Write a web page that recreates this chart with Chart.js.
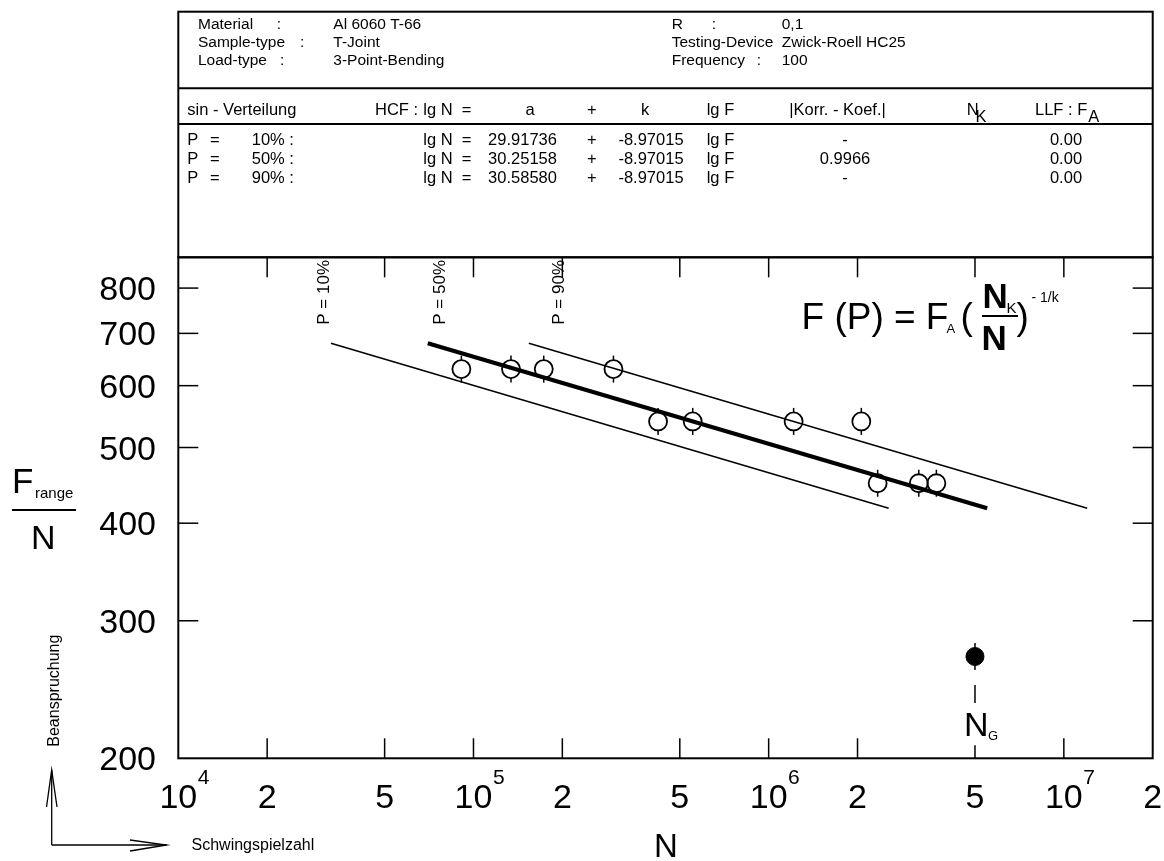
<!DOCTYPE html>
<html>
<head>
<meta charset="utf-8">
<script src="https://cdn.jsdelivr.net/npm/chart.js@4.4.1/dist/chart.umd.min.js"></script>
<style>
html,body{margin:0;padding:0;background:#fff;}
#wrap{position:relative;width:1164px;height:861px;}
canvas{display:block;}
</style>
</head>
<body>
<div id="wrap"><canvas id="c" width="1164" height="861"></canvas></div>
<script>
// ---- data ----
const failureCycles = [91000, 134000, 173000, 298000, 422000, 553000, 1215000, 2060000, 2340000, 3225000, 3700000];
const failureLoads  = [630, 630, 630, 630, 540, 540, 540, 540, 450, 450, 450];
const runoutCycles = [5000000];
const runoutLoads  = [270];
const p10Cycles = [32900, 2550000];
const p10Loads  = [680, 418];
const p50Cycles = [70000, 5500000];
const p50Loads  = [680, 418];
const p90Cycles = [154000, 12000000];
const p90Loads  = [680, 418];
const xTickValues = [1e4, 2e4, 5e4, 1e5, 2e5, 5e5, 1e6, 2e6, 5e6, 1e7, 2e7];
const xTickMantissa = ['10', '2', '5', '10', '2', '5', '10', '2', '5', '10', '2'];
const xTickExponent = ['4', '', '', '5', '', '', '6', '', '', '7', ''];
const yTickValues = [200, 300, 400, 500, 600, 700, 800];
const yTickLabels = ['200', '300', '400', '500', '600', '700', '800'];
const pLabels = ['P = 10%', 'P = 50%', 'P = 90%'];
const pLabelCycles = [32300, 80200, 203000];

const headerLeft = [['Material', ':', 'Al 6060 T-66'], ['Sample-type', ':', 'T-Joint'], ['Load-type', ':', '3-Point-Bending']];
const headerRight = [['R', ':', '0,1'], ['Testing-Device', '', 'Zwick-Roell HC25'], ['Frequency', ':', '100']];
const rowProb = ['10% :', '50% :', '90% :'];
const rowA = ['29.91736', '30.25158', '30.58580'];
const rowK = ['-8.97015', '-8.97015', '-8.97015'];
const rowKorr = ['-', '0.9966', '-'];
const rowFA = ['0.00', '0.00', '0.00'];

const toPts = (xs, ys) => xs.map((x, i) => ({x: x, y: ys[i]}));
const FONT = "'Liberation Sans', Arial, Helvetica, sans-serif";

function txt(ctx, s, x, y, size, align, weight) {
  ctx.font = (weight ? weight + ' ' : '') + size + 'px ' + FONT;
  ctx.textAlign = align || 'left';
  ctx.textBaseline = 'alphabetic';
  ctx.fillText(s, x, y);
}
function line(ctx, x1, y1, x2, y2, w) {
  ctx.lineWidth = w || 1.5;
  ctx.beginPath(); ctx.moveTo(x1, y1); ctx.lineTo(x2, y2); ctx.stroke();
}

const decor = {
  id: 'decor',
  beforeDraw(chart) {
    const ctx = chart.ctx;
    ctx.save(); ctx.fillStyle = '#fff'; ctx.fillRect(0, 0, chart.width, chart.height); ctx.restore();
  },
  afterDatasetsDraw(chart) {
    const ctx = chart.ctx;
    ctx.save();
    ctx.strokeStyle = '#000';
    [3, 4].forEach(di => {
      const meta = chart.getDatasetMeta(di);
      meta.data.forEach(pt => {
        line(ctx, pt.x, pt.y - 13.5, pt.x, pt.y - 9, 1.5);
        line(ctx, pt.x, pt.y + 9, pt.x, pt.y + 13.5, 1.5);
      });
    });
    ctx.restore();
  },
  afterDraw(chart) {
    const ctx = chart.ctx;
    const a = chart.chartArea;
    const xs = chart.scales.x, ys = chart.scales.y;
    ctx.save();
    ctx.fillStyle = '#000';
    ctx.strokeStyle = '#000';

    // plot frame
    ctx.lineWidth = 2;
    ctx.strokeRect(a.left, a.top, a.right - a.left, a.bottom - a.top);

    // inner tick marks
    xTickValues.forEach(v => {
      const px = xs.getPixelForValue(v);
      if (px <= a.left + 1 || px >= a.right - 1) return;
      line(ctx, px, a.top, px, a.top + 20, 1.5);
      const bTop = (v === runoutCycles[0]) ? a.bottom - 13 : a.bottom - 20;
      line(ctx, px, a.bottom, px, bTop, 1.5);
    });
    yTickValues.forEach(v => {
      const py = ys.getPixelForValue(v);
      if (py >= a.bottom - 1 || py <= a.top + 1) return;
      line(ctx, a.left, py, a.left + 20, py, 1.5);
      line(ctx, a.right, py, a.right - 20, py, 1.5);
    });

    // x tick labels
    xTickValues.forEach((v, i) => {
      const px = xs.getPixelForValue(v);
      const m = xTickMantissa[i];
      txt(ctx, m, px, a.bottom + 50, 34, 'center');
      if (xTickExponent[i]) {
        ctx.font = '34px ' + FONT;
        const w = ctx.measureText(m).width;
        txt(ctx, xTickExponent[i], px + w / 2 + 0.5, a.bottom + 26, 21, 'left');
      }
    });
    // y tick labels
    yTickValues.forEach((v, i) => {
      const py = ys.getPixelForValue(v);
      txt(ctx, yTickLabels[i], 156, py + 12, 34, 'right');
    });

    // axis titles
    txt(ctx, 'N', 654, 856.5, 33, 'left');
    txt(ctx, 'F', 12, 493.3, 35, 'left');
    txt(ctx, 'range', 35, 498, 15, 'left');
    line(ctx, 12, 510, 76, 510, 2);
    txt(ctx, 'N', 31, 549.3, 34, 'left');
    // Beanspruchung (rotated)
    ctx.save(); ctx.translate(58.5, 746.7); ctx.rotate(-Math.PI / 2);
    txt(ctx, 'Beanspruchung', 0, 0, 16, 'left'); ctx.restore();
    txt(ctx, 'Schwingspielzahl', 191.5, 850, 16, 'left');
    // direction arrows
    ctx.lineWidth = 1.3;
    ctx.beginPath(); ctx.moveTo(51.7, 845); ctx.lineTo(51.7, 770); ctx.stroke();
    ctx.beginPath(); ctx.moveTo(46.5, 807); ctx.lineTo(51.7, 770); ctx.lineTo(57, 807); ctx.stroke();
    ctx.beginPath(); ctx.moveTo(51.7, 845); ctx.lineTo(166.5, 845); ctx.stroke();
    ctx.beginPath(); ctx.moveTo(130, 840); ctx.lineTo(166.5, 845); ctx.lineTo(130, 851); ctx.stroke();

    // P labels (rotated)
    pLabels.forEach((s, i) => {
      const px = xs.getPixelForValue(pLabelCycles[i]);
      ctx.save(); ctx.translate(px, 324.7); ctx.rotate(-Math.PI / 2);
      txt(ctx, s, 0, 0, 17, 'left'); ctx.restore();
    });

    // formula
    txt(ctx, 'F (P) = F', 801.5, 329.3, 37, 'left');
    txt(ctx, 'A', 946.5, 333, 13, 'left');
    txt(ctx, '(', 960.5, 329.3, 37, 'left');
    txt(ctx, 'N', 982.5, 308.3, 35, 'left', 'bold');
    txt(ctx, 'K', 1006.5, 312.7, 15, 'left');
    line(ctx, 982, 316, 1018, 316, 2);
    txt(ctx, 'N', 981.5, 350, 35, 'left', 'bold');
    txt(ctx, ')', 1016.5, 329.3, 37, 'left');
    txt(ctx, '- 1/k', 1031.5, 301.7, 14, 'left');

    // N_G annotation under run-out point
    const rp = chart.getDatasetMeta(4).data[0];
    line(ctx, rp.x, rp.y + 28.5, rp.x, rp.y + 46.5, 1.5);
    txt(ctx, 'N', rp.x - 11, 736, 34, 'left');
    txt(ctx, 'G', rp.x + 13, 740, 13, 'left');

    // ---- header box ----
    const L = a.left, R = a.right;
    ctx.lineWidth = 2;
    ctx.strokeRect(L, 11.7, R - L, a.top - 11.7);
    line(ctx, L, 88.3, R, 88.3, 2);
    line(ctx, L, 124, R, 124, 2);
    const hb = [29.3, 47, 65];
    headerLeft.forEach((r, i) => {
      txt(ctx, r[0], 198, hb[i], 15.5);
      const cx = [276.7, 300, 280][i];
      txt(ctx, r[1], cx, hb[i], 15.5);
      txt(ctx, r[2], 333.3, hb[i], 15.5);
    });
    headerRight.forEach((r, i) => {
      txt(ctx, r[0], 671.7, hb[i], 15.5);
      if (r[1]) txt(ctx, r[1], [711.7, 0, 756.7][i], hb[i], 15.5);
      txt(ctx, r[2], 781.7, hb[i], 15.5);
    });
    const h2 = 114.5, hs = 16.5;
    txt(ctx, 'sin - Verteilung', 187.3, h2, hs);
    txt(ctx, 'HCF :', 375, h2, hs);
    txt(ctx, 'lg N', 423.3, h2, hs);
    txt(ctx, '=', 461.7, h2, hs);
    txt(ctx, 'a', 530, h2, hs, 'center');
    txt(ctx, '+', 591.7, h2, hs, 'center');
    txt(ctx, 'k', 645, h2, hs, 'center');
    txt(ctx, 'lg F', 706.7, h2, hs);
    txt(ctx, '|Korr. - Koef.|', 837.5, h2, hs, 'center');
    txt(ctx, 'N', 966.7, h2, hs);
    txt(ctx, 'K', 975.5, 121.7, hs);
    txt(ctx, 'LLF : F', 1035, h2, hs);
    txt(ctx, 'A', 1088.3, 121.7, hs);
    const rb = [145, 164, 183], rs = 16.5;
    rowProb.forEach((p, i) => {
      txt(ctx, 'P', 187.3, rb[i], rs);
      txt(ctx, '=', 210, rb[i], rs);
      txt(ctx, p, 251.7, rb[i], rs);
      txt(ctx, 'lg N', 423.3, rb[i], rs);
      txt(ctx, '=', 461.7, rb[i], rs);
      txt(ctx, rowA[i], 522.5, rb[i], rs, 'center');
      txt(ctx, '+', 591.7, rb[i], rs, 'center');
      txt(ctx, rowK[i], 651, rb[i], rs, 'center');
      txt(ctx, 'lg F', 706.7, rb[i], rs);
      txt(ctx, rowKorr[i], 845, rb[i], rs, 'center');
      txt(ctx, rowFA[i], 1066, rb[i], rs, 'center');
    });
    ctx.restore();
  }
};

new Chart(document.getElementById('c'), {
  type: 'scatter',
  data: {
    datasets: [
      {label: 'P = 10%', data: toPts(p10Cycles, p10Loads), showLine: true, borderColor: '#000', borderWidth: 1.5, pointRadius: 0, fill: false},
      {label: 'P = 50%', data: toPts(p50Cycles, p50Loads), showLine: true, borderColor: '#000', borderWidth: 4, pointRadius: 0, fill: false},
      {label: 'P = 90%', data: toPts(p90Cycles, p90Loads), showLine: true, borderColor: '#000', borderWidth: 1.5, pointRadius: 0, fill: false},
      {label: 'Bruch', data: toPts(failureCycles, failureLoads), showLine: false, pointRadius: 9, pointBorderWidth: 1.8, pointBorderColor: '#000', pointBackgroundColor: 'rgba(0,0,0,0)'},
      {label: 'Durchläufer', data: toPts(runoutCycles, runoutLoads), showLine: false, pointRadius: 9, pointBorderWidth: 1, pointBorderColor: '#000', pointBackgroundColor: '#000'}
    ]
  },
  options: {
    responsive: false,
    animation: false,
    devicePixelRatio: 1,
    layout: {padding: {left: 178.3, top: 257.3, right: 11.3, bottom: 102.7}},
    plugins: {legend: {display: false}, tooltip: {enabled: false}},
    scales: {
      x: {type: 'logarithmic', min: 1e4, max: 2e7, display: false},
      y: {type: 'logarithmic', min: 200, max: 876, display: false}
    }
  },
  plugins: [decor]
});
</script>
</body>
</html>
